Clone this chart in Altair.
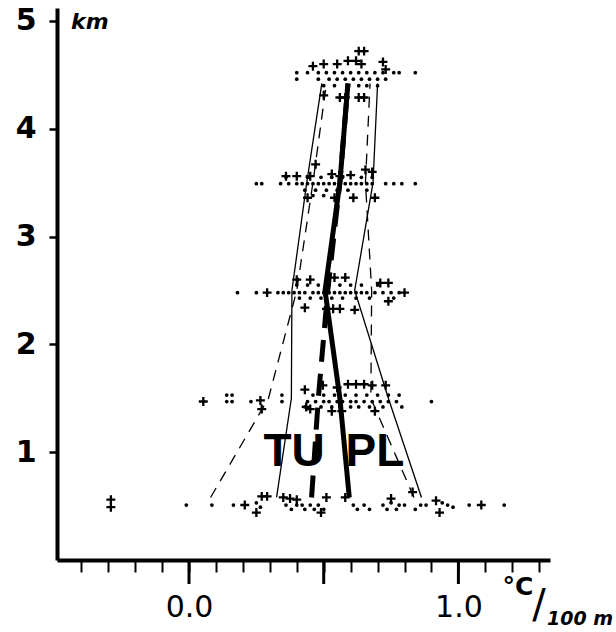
import altair as alt
import pandas as pd

# ---- profile lines (lapse rate, degC/100 m) at the five height levels (km)
LEVELS = [0.58, 1.5, 2.5, 3.5, 4.42]
PL_MEAN = [0.595, 0.56, 0.505, 0.56, 0.59]
TU_MEAN = [0.455, 0.48, 0.515, 0.56, 0.59]
PL_LOW = [0.325, 0.38, 0.382, 0.437, 0.493]
PL_HIGH = [0.863, 0.74, 0.615, 0.683, 0.70]
TU_LOW = [0.08, 0.295, 0.40, 0.46, 0.51]
TU_HIGH = [0.835, 0.675, 0.678, 0.655, 0.672]

# ---- dot observations, grouped in rows: (height, [values])
DOT_ROWS = [
    (0.51, [-0.01, 0.085, 0.165, 0.36, 0.40, 0.42, 0.45, 0.48, 0.61, 0.65, 0.72, 0.78, 0.80, 0.86, 0.88, 0.96, 1.04, 1.17]),
    (0.47, [0.38, 0.43, 0.465, 0.50, 0.625, 0.67, 0.735, 0.77, 0.84]),
    (0.53, [0.25, 0.75, 0.94]),
    (0.49, [0.265, 0.98]),
    (1.53, [0.14, 0.16, 0.345, 0.46, 0.50, 0.54, 0.58, 0.62, 0.66, 0.70, 0.74, 0.78]),
    (1.47, [0.14, 0.16, 0.23, 0.345, 0.44, 0.47, 0.50, 0.52, 0.55, 0.57, 0.60, 0.62, 0.65, 0.68, 0.71, 0.74, 0.77, 0.90]),
    (1.42, [0.43, 0.49, 0.53, 0.56, 0.60, 0.63, 0.67, 0.72, 0.79]),
    (2.48, [0.18, 0.25, 0.33, 0.35, 0.37, 0.39, 0.41, 0.43, 0.46, 0.48, 0.50, 0.52, 0.54, 0.56, 0.58, 0.60, 0.62, 0.64, 0.66, 0.69, 0.72, 0.75, 0.78]),
    (2.55, [0.40, 0.44, 0.48, 0.52, 0.56, 0.60, 0.64, 0.70]),
    (2.43, [0.41, 0.45, 0.49, 0.53, 0.57, 0.62, 0.67, 0.76]),
    (3.49, [0.25, 0.27, 0.34, 0.37, 0.40, 0.42, 0.44, 0.46, 0.48, 0.50, 0.52, 0.54, 0.56, 0.58, 0.60, 0.62, 0.64, 0.66, 0.68, 0.73, 0.76, 0.79, 0.84]),
    (3.55, [0.36, 0.44, 0.49, 0.53, 0.57, 0.64, 0.68]),
    (3.43, [0.43, 0.47, 0.51, 0.55, 0.59, 0.66]),
    (3.38, [0.46, 0.50]),
    (4.52, [0.40, 0.44, 0.48, 0.51, 0.54, 0.57, 0.60, 0.63, 0.66, 0.69, 0.72, 0.76, 0.78, 0.84]),
    (4.46, [0.40, 0.48, 0.52, 0.55, 0.58, 0.61, 0.64, 0.67, 0.70, 0.73]),
    (4.40, [0.50, 0.54, 0.59, 0.63, 0.66, 0.70]),
]

# ---- cross observations (value, height)
CROSSES = [
    (-0.29, 0.56), (-0.29, 0.49), (0.207, 0.51), (0.25, 0.44), (0.27, 0.59), (0.29, 0.59),
    (0.35, 0.58), (0.375, 0.57), (0.40, 0.56), (0.49, 0.44), (0.51, 0.58), (0.58, 0.58),
    (0.75, 0.57), (0.83, 0.63), (0.917, 0.55), (0.93, 0.44), (1.085, 0.51),
    (0.053, 1.47), (0.265, 1.48), (0.27, 1.40), (0.43, 1.58), (0.435, 1.42), (0.45, 1.40),
    (0.497, 1.62), (0.55, 1.60), (0.59, 1.63), (0.62, 1.63), (0.65, 1.63), (0.68, 1.62),
    (0.73, 1.62), (0.53, 1.38), (0.567, 1.38), (0.69, 1.38),
    (0.29, 2.48), (0.40, 2.60), (0.45, 2.60), (0.54, 2.62), (0.58, 2.62), (0.71, 2.57),
    (0.74, 2.57), (0.80, 2.48), (0.43, 2.34), (0.51, 2.33), (0.535, 2.33), (0.56, 2.33),
    (0.615, 2.32), (0.74, 2.40),
    (0.36, 3.56), (0.40, 3.56), (0.45, 3.56), (0.47, 3.67), (0.53, 3.58), (0.56, 3.56),
    (0.60, 3.57), (0.655, 3.62), (0.68, 3.60), (0.44, 3.36), (0.54, 3.36), (0.61, 3.36),
    (0.69, 3.36),
    (0.46, 4.58), (0.50, 4.60), (0.55, 4.60), (0.59, 4.63), (0.62, 4.63), (0.64, 4.60),
    (0.63, 4.72), (0.65, 4.72), (0.72, 4.62), (0.73, 4.55), (0.50, 4.31), (0.56, 4.29),
    (0.58, 4.29), (0.63, 4.29), (0.65, 4.29),
]

X_TICKS = [-0.4, -0.3, -0.2, -0.1, 0.0, 0.1, 0.2, 0.3, 0.4, 0.5, 0.6, 0.7, 0.8, 0.9, 1.0, 1.1, 1.2, 1.3]
MAJOR_TICKS = [0.0, 0.5, 1.0]
Y_TICKS = [1, 2, 3, 4, 5]
SERIES_LABELS = [("TU", 0.39, 1.0), ("PL", 0.69, 1.0)]

# ---- tables
dots_df = pd.DataFrame([(x, y) for y, xs in DOT_ROWS for x in xs], columns=["x", "y"])
cross_df = pd.DataFrame(CROSSES, columns=["x", "y"])


def line_df(vals):
    return pd.DataFrame({"x": vals, "y": LEVELS})


major_df = pd.DataFrame({"x": MAJOR_TICKS})
lab_df = pd.DataFrame(SERIES_LABELS, columns=["t", "x", "y"])

xscale = alt.Scale(domain=[-0.49, 1.34], nice=False, zero=False)
yscale = alt.Scale(domain=[0, 5.12], nice=False, zero=False)

xaxis = alt.Axis(
    values=X_TICKS, tickSize=12, tickWidth=2, tickColor="black",
    domainWidth=4, domainColor="black", grid=False, title=None,
    labelExpr="abs(datum.value) < 0.001 ? '0.0' : (abs(datum.value - 1) < 0.001 ? '1.0' : '')",
    labelFontSize=30, labelFont="DejaVu Sans", labelColor="black", labelPadding=20,
    labelOverlap=False, labelFlush=False,
)
yaxis = alt.Axis(
    values=Y_TICKS, tickSize=8, tickWidth=2.5, tickColor="black",
    domainWidth=4, domainColor="black", grid=False, title=None, format="d",
    labelFontSize=30, labelFont="DejaVu Sans", labelFontWeight="bold",
    labelColor="black", labelPadding=13, labelOverlap=False, labelFlush=False,
)

X = alt.X("x:Q", scale=xscale, axis=xaxis)
Y = alt.Y("y:Q", scale=yscale, axis=yaxis)

dots = alt.Chart(dots_df).mark_circle(size=14, color="black", opacity=1).encode(x=X, y=Y)
crosses = alt.Chart(cross_df).mark_point(
    shape="M-1,0L1,0M0,-1L0,1", size=80, filled=False, color="black",
    strokeWidth=2.3, opacity=1,
).encode(x=X, y=Y)


def prof(vals, width, dash=None):
    kw = dict(color="black", strokeWidth=width)
    if dash:
        kw["strokeDash"] = dash
    return alt.Chart(line_df(vals)).mark_line(**kw).encode(x=X, y=Y, order="y:Q")


lines = [
    prof(PL_LOW, 1.3),
    prof(PL_HIGH, 1.3),
    prof(TU_LOW, 1.3, [11, 8]),
    prof(TU_HIGH, 1.3, [11, 8]),
    prof(PL_MEAN, 5),
    prof(TU_MEAN, 5, [22, 12]),
]

major = alt.Chart(major_df).mark_rule(color="black", strokeWidth=3).encode(
    x=X, y=alt.value(552), y2=alt.value(576)
)

labels = alt.Chart(lab_df).mark_text(
    font="'Liberation Sans Narrow', 'Liberation Sans', sans-serif",
    fontSize=46, fontWeight="bold", color="black",
).encode(x=X, y=Y, text="t:N")

km = alt.Chart(pd.DataFrame({"t": ["km"]})).mark_text(
    font="DejaVu Sans", fontSize=22, fontWeight="bold", fontStyle="italic",
    color="black", align="left", baseline="alphabetic",
).encode(x=alt.value(14), y=alt.value(21), text="t:N")

unit_c = alt.Chart(pd.DataFrame({"t": ["°C"]})).mark_text(
    font="DejaVu Sans", fontSize=25, fontWeight="bold", color="black",
    align="center", baseline="alphabetic",
).encode(x=alt.value(461), y=alt.value(587), text="t:N")
unit_s = alt.Chart(pd.DataFrame({"t": ["/"]})).mark_text(
    font="DejaVu Sans", fontSize=40, color="black",
    align="center", baseline="middle",
).encode(x=alt.value(482), y=alt.value(598), text="t:N")
unit_m = alt.Chart(pd.DataFrame({"t": ["100 m"]})).mark_text(
    font="DejaVu Sans", fontSize=19, fontWeight="bold", fontStyle="italic",
    color="black", align="left", baseline="alphabetic",
).encode(x=alt.value(490), y=alt.value(617), text="t:N")

chart = alt.layer(
    *lines, dots, crosses, major, labels, km, unit_c, unit_s, unit_m
).properties(
    width=493, height=552,
    padding={"left": 57, "top": 8, "right": 66, "bottom": 72},
    autosize="none", background="white",
).configure_view(stroke=None, strokeWidth=0)

chart.save("out.html", embed_options={"renderer": "svg", "actions": False})
